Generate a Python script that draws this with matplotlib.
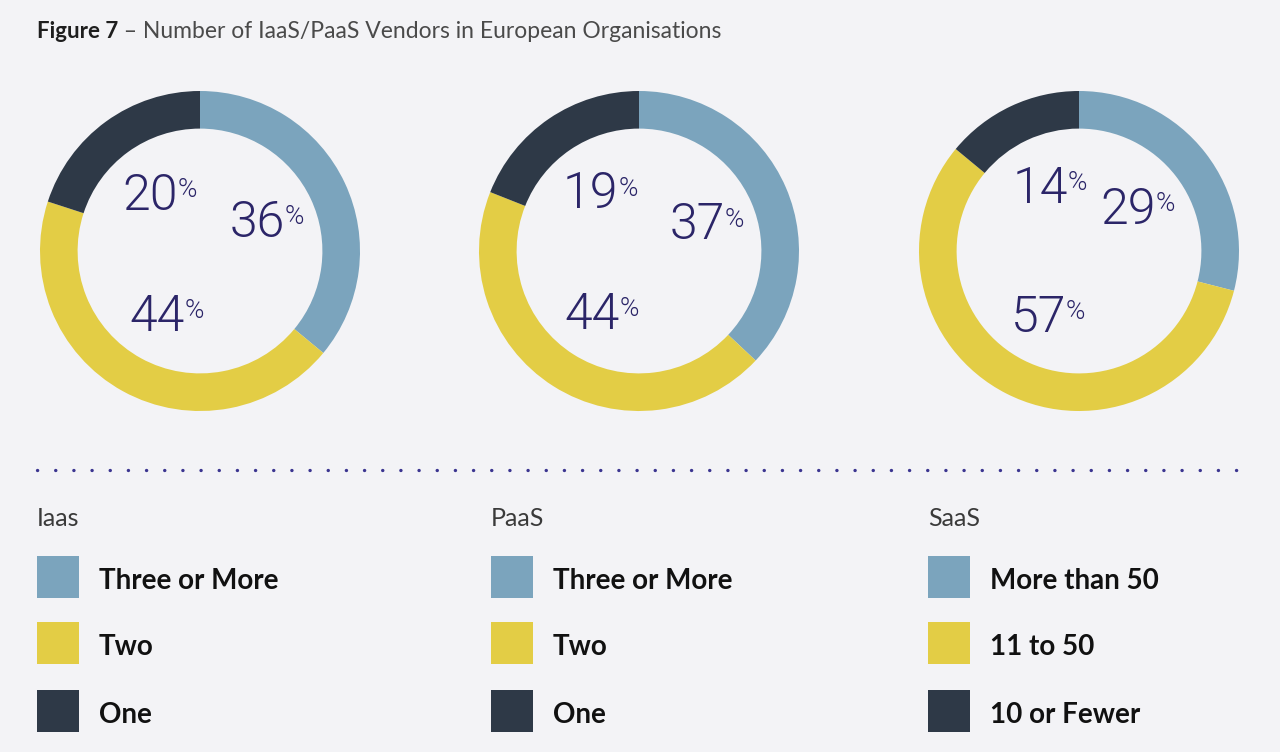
import numpy as np
import matplotlib.pyplot as plt
from matplotlib.lines import Line2D
from matplotlib.patches import Rectangle

# data
groups = ['Iaas', 'PaaS', 'SaaS']
iaas_shares = [36, 44, 20]
paas_shares = [37, 44, 19]
saas_shares = [29, 57, 14]
iaas_labels = ['Three or More', 'Two', 'One']
paas_labels = ['Three or More', 'Two', 'One']
saas_labels = ['More than 50', '11 to 50', '10 or Fewer']

colors = ['#7BA4BD', '#E3CD45', '#2E3947']
bg = '#F3F3F6'
pct_color = '#2B2568'

plt.rcParams['font.family'] = ['Lato', 'DejaVu Sans']

W, H = 1280, 752
fig = plt.figure(figsize=(12.8, 7.52), dpi=100, facecolor=bg)

# full-figure overlay for the texts, in pixel coords from top-left
over = fig.add_axes([0, 0, 1, 1])
over.set_xlim(0, W)
over.set_ylim(H, 0)
over.axis('off')

# title
t0 = over.text(37, 31, 'Figure 7', fontsize=16, fontweight='bold',
               color='#1E1E1E', va='center', ha='left')
over.annotate(' \u2013 Number of IaaS/PaaS Vendors in European Organisations',
              xy=(1.0, 0.5), xycoords=t0, fontsize=16.5, fontweight='normal',
              color='#4A4A4A', va='center', ha='left')

centers = [200, 639, 1079]
R = 160
all_shares = [iaas_shares, paas_shares, saas_shares]
all_labels = [iaas_labels, paas_labels, saas_labels]

for cx, shares in zip(centers, all_shares):
    ax = fig.add_axes([(cx - R) / W, 1 - (251 + R) / H, 2 * R / W, 2 * R / H])
    ax.pie(shares, colors=colors, startangle=90, counterclock=False,
           radius=1, wedgeprops=dict(width=0.235, linewidth=0))
    ax.set_xlim(-1, 1)
    ax.set_ylim(-1, 1)
    ax.set_aspect('equal')
    ax.axis('off')
    # labels at wedge mid angles
    cum = np.cumsum([0] + shares)
    for i, v in enumerate(shares):
        mid = (cum[i] + cum[i + 1]) / 2 / 100 * 360
        ang = np.deg2rad(90 - mid)
        r = 0.45
        x, y = r * np.cos(ang) - 0.05, r * np.sin(ang) - 0.02
        t = ax.text(x, y, f'{v}', fontsize=36, fontweight=300,
                    family=['Roboto', 'DejaVu Sans'],
                    color=pct_color, ha='center', va='center')
        ax.annotate('%', xy=(1.0, 0.88), xycoords=t, fontsize=19,
                    fontweight=300, family=['Roboto', 'DejaVu Sans'],
                    color=pct_color, ha='left', va='top')

# dotted separator
over.add_line(Line2D([37, 1243], [470, 470], color='#3B3590', linewidth=2.4,
                     linestyle=(0, (0.05, 5.4)), dash_capstyle='round'))

# legends
col_x = [37, 491, 928]
row_y = [577, 643, 711]
sq = 42
for gx, name, labels in zip(col_x, groups, all_labels):
    over.text(gx, 518, name, fontsize=18, fontweight='normal',
              color='#3A3A3A', va='center', ha='left')
    for ry, c, lab in zip(row_y, colors, labels):
        over.add_patch(Rectangle((gx, ry - sq / 2), sq, sq,
                                 facecolor=c, edgecolor='none'))
        over.text(gx + 62, ry + 4, lab, fontsize=20, fontweight='bold',
                  color='#111111', va='center', ha='left')

fig.savefig('out.png', dpi=100, facecolor=bg)
